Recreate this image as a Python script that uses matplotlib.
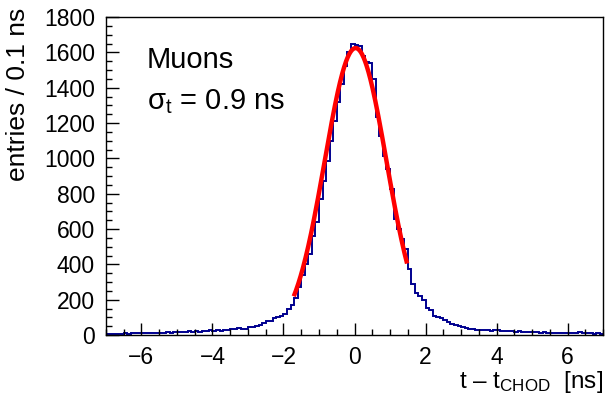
"""Time difference distribution for muons with Gaussian fit (ROOT-like style)."""

import matplotlib

matplotlib.use("Agg")
import matplotlib.pyplot as plt
import numpy as np
from matplotlib.ticker import MultipleLocator

plt.rcParams["font.family"] = ["Liberation Sans", "DejaVu Sans"]
plt.rcParams["mathtext.fontset"] = "custom"
plt.rcParams["mathtext.rm"] = "Liberation Sans"
plt.rcParams["mathtext.it"] = "Liberation Sans"

# Histogram: 140 bins of 0.1 ns from -7 to 7 ns
bin_edges = np.round(np.arange(-7.0, 7.0001, 0.1), 2)

left_tail = [
    6, 8, 7, 9, 8, 10, 9, 11, 10, 12,
    11, 13, 12, 14, 13, 15, 14, 17, 15, 18,
    16, 19, 17, 21, 19, 22, 20, 25, 22, 27,
    24, 28, 26, 31, 29, 36, 33, 42, 37, 35,
    46, 44, 53, 58, 66,
]
core = [
    80, 82, 95, 103, 108, 118, 150, 172, 212, 272,
    340, 405, 462, 562, 640, 768, 872, 985, 1100, 1212,
    1318, 1420, 1525, 1600, 1648, 1645, 1638, 1578, 1545, 1540,
    1450, 1235, 1129, 1016, 941, 827, 657, 600, 544, 487,
    374, 289, 238, 224, 200, 152, 142, 110, 104, 95,
]
right_tail = [
    86, 74, 64, 58, 50, 44, 41, 36, 34, 32,
    30, 29, 27, 26, 27, 30, 24, 23, 22, 21,
    20, 22, 19, 18, 20, 16, 17, 15, 16, 14,
    15, 13, 14, 15, 12, 13, 11, 12, 18, 10,
    11, 10, 9, 10, 9,
]
counts = left_tail + core + right_tail

# Gaussian fit parameters and fit range
fit_amp = 1625.0
fit_mean = 0.03
fit_sigma = 0.87
fit_range = (-1.71, 1.48)

fig = plt.figure(figsize=(6.05, 3.99), dpi=100)
ax = fig.add_axes([0.175, 0.16, 0.822, 0.797])

ax.stairs(counts, bin_edges, color="#00008f", linewidth=1.4)

x_fit = np.linspace(fit_range[0], fit_range[1], 300)
y_fit = fit_amp * np.exp(-0.5 * ((x_fit - fit_mean) / fit_sigma) ** 2)
ax.plot(x_fit, y_fit, color="#ff0000", linewidth=3.2, solid_capstyle="butt")

ax.set_xlim(-7, 7)
ax.set_ylim(0, 1800)

ax.xaxis.set_major_locator(MultipleLocator(2))
ax.xaxis.set_minor_locator(MultipleLocator(0.5))
ax.yaxis.set_major_locator(MultipleLocator(200))
ax.yaxis.set_minor_locator(MultipleLocator(50))
ax.tick_params(which="both", direction="in", top=False, right=False,
               labelsize=16.5, width=1.0, pad=8)
ax.tick_params(which="major", length=9)
ax.tick_params(which="minor", length=4.5)
for spine in ax.spines.values():
    spine.set_linewidth(1.0)

ax.set_ylabel("entries / 0.1 ns", fontsize=19, loc="top", labelpad=7)
ax.yaxis.set_label_coords(-0.152, 1.03, transform=ax.transAxes)
ax.set_xlabel(r"$\mathregular{t\ –\ t_{CHOD}}$  [ns]", fontsize=17.5,
              loc="right", labelpad=0)

ax.text(0.082, 0.865, "Muons", transform=ax.transAxes, fontsize=21,
        ha="left", va="center")
ax.text(0.082, 0.735, r"$\mathregular{\sigma_t}$ = 0.9 ns", transform=ax.transAxes,
        fontsize=21, ha="left", va="center")

fig.savefig("out.png", dpi=100)
